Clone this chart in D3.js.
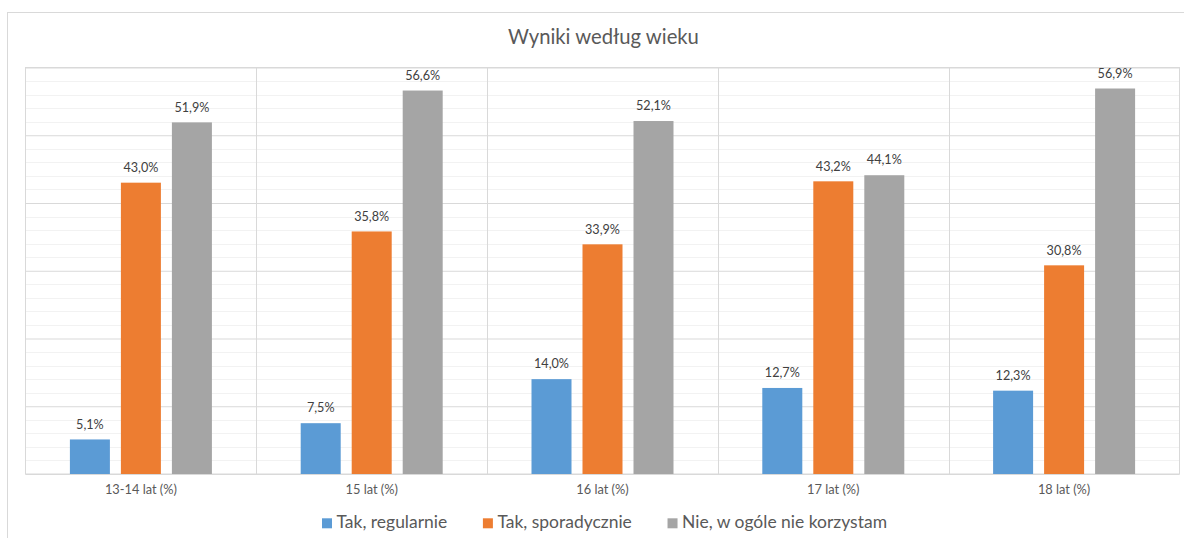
<!DOCTYPE html>
<html><head><meta charset="utf-8">
<script src="https://cdn.jsdelivr.net/npm/d3@7/dist/d3.min.js"></script>
<style>body{margin:0;background:#fff;}svg{display:block;font-family:Lato,"Open Sans",sans-serif;}</style>
</head><body>
<svg id="c" width="1184" height="538"></svg>
<script>
const title = "Wyniki według wieku";
const categories = ["13-14 lat (%)", "15 lat (%)", "16 lat (%)", "17 lat (%)", "18 lat (%)"];
const seriesNames = ["Tak, regularnie", "Tak, sporadycznie", "Nie, w ogóle nie korzystam"];
const regularnie = [5.1, 7.5, 14.0, 12.7, 12.3];
const sporadycznie = [43.0, 35.8, 33.9, 43.2, 30.8];
const nieKorzystam = [51.9, 56.6, 52.1, 44.1, 56.9];
const colors = ["#5B9BD5", "#ED7D31", "#A5A5A5"];
const yMax = 60, yMajor = 10, yMinor = 2;

const seriesValues = [regularnie, sporadycznie, nieKorzystam];
const svg = d3.select("#c");
const plot = {l: 25.5, t: 67.5, r: 1179.5, b: 474};
const textCol = "#595959";

// fit a font size so that a text's rendered width matches a target width
function fitSize(str, target, base) {
  const t = svg.append("text").attr("font-size", base).text(str);
  const w = t.node().getComputedTextLength();
  t.remove();
  return base * target / w;
}

// outer chart border
svg.append("rect").attr("x", 7.5).attr("y", 12.5).attr("width", 1184).attr("height", 540)
  .attr("fill", "#fff").attr("stroke", "#d9d9d9").attr("stroke-width", 1);

// title
svg.append("text").attr("x", 603.5).attr("y", 43.5).attr("text-anchor", "middle")
  .attr("fill", textCol).attr("font-size", fitSize(title, 191, 20)).text(title);

const x0 = d3.scaleBand().domain(categories).range([plot.l, plot.r]).padding(0);
const groupW = 142;
const x1 = d3.scaleBand().domain(seriesNames).range([0, groupW]).paddingInner(11/51).paddingOuter(0);
const y = d3.scaleLinear().domain([0, yMax]).range([plot.b, plot.t]);

// minor gridlines
const minorTicks = d3.range(0, yMax + 0.001, yMinor).filter(v => Math.abs(v % yMajor) > 1e-6);
svg.append("g").selectAll("line").data(minorTicks).join("line")
  .attr("x1", plot.l).attr("x2", plot.r)
  .attr("y1", d => Math.round(y(d)) + 0.5).attr("y2", d => Math.round(y(d)) + 0.5)
  .attr("stroke", "#f2f2f2").attr("stroke-width", 1);

// major gridlines via axis
const yAxis = d3.axisLeft(y).tickValues(d3.range(0, yMax + 0.001, yMajor)).tickSize(-(plot.r - plot.l)).tickFormat("");
const gy = svg.append("g").attr("transform", `translate(${plot.l},0)`).call(yAxis);
gy.select(".domain").remove();
gy.selectAll("line").attr("stroke", "#d9d9d9");

// vertical category separators
svg.append("g").selectAll("line").data(categories.slice(1)).join("line")
  .attr("x1", d => Math.round(x0(d)) + 0.5).attr("x2", d => Math.round(x0(d)) + 0.5)
  .attr("y1", plot.t).attr("y2", plot.b).attr("stroke", "#d9d9d9");

// plot border
svg.append("rect").attr("x", plot.l).attr("y", plot.t).attr("width", plot.r - plot.l).attr("height", plot.b - plot.t)
  .attr("fill", "none").attr("stroke", "#d9d9d9");

// bars
const data = [];
categories.forEach((c, i) => seriesNames.forEach((s, j) => data.push({c, s, j, v: seriesValues[j][i]})));
const off = (x0.bandwidth() - groupW) / 2;
const bx = d => x0(d.c) + off + x1(d.s);
svg.append("g").selectAll("rect").data(data).join("rect")
  .attr("x", bx).attr("width", x1.bandwidth())
  .attr("y", d => y(d.v)).attr("height", d => y(0) - y(d.v))
  .attr("fill", d => colors[d.j]);

// value labels
const fmt = v => v.toFixed(1).replace(".", ",") + "%";
const labelSize = fitSize("51,9%", 35, 12);
svg.append("g").selectAll("text").data(data).join("text")
  .attr("x", d => bx(d) + x1.bandwidth() / 2).attr("y", d => y(d.v) - 10.8)
  .attr("text-anchor", "middle").attr("font-size", labelSize).attr("fill", "#404040")
  .text(d => fmt(d.v));

// category axis labels
const catSize = fitSize(categories[0], 72, 12);
const xAxis = d3.axisBottom(x0).tickSize(0).tickPadding(0);
const gx = svg.append("g").attr("transform", `translate(0,${plot.b})`).call(xAxis);
gx.select(".domain").remove();
gx.selectAll("text").attr("font-family", "Lato").attr("font-size", catSize).attr("fill", textCol).attr("dy", 0).attr("y", 19.5);

// legend
const legSize = fitSize(seriesNames.join(""), 112 + 134 + 202, 16);
const lg = svg.append("g");
const items = lg.selectAll("g").data(seriesNames).join("g");
items.append("rect").attr("width", 10).attr("height", 10).attr("y", -10).attr("fill", (d, i) => colors[i]);
items.append("text").attr("x", 14.5).attr("font-size", legSize).attr("fill", textCol).text(d => d);
const widths = [];
items.each(function() { widths.push(14.5 + this.querySelector("text").getComputedTextLength()); });
const legL = 322, legR = 887;
const gap = (legR - legL - d3.sum(widths)) / (widths.length - 1);
const pos = widths.map((w, i) => legL + d3.sum(widths.slice(0, i)) + gap * i);
items.attr("transform", (d, i) => `translate(${pos[i]},528.3)`);
</script>
</body></html>
